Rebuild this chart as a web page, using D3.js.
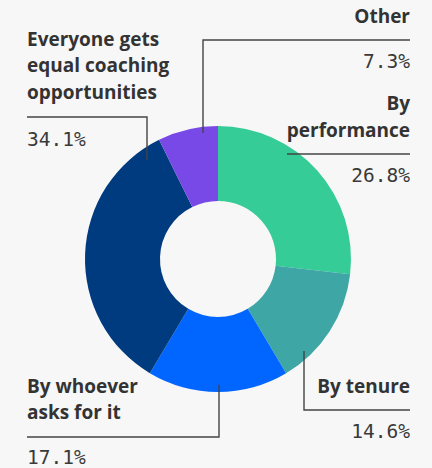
<!DOCTYPE html>
<html>
<head>
<meta charset="utf-8">
<script src="https://cdn.jsdelivr.net/npm/d3@7"></script>
<style>
  html, body { margin: 0; padding: 0; background: #f7f7f7; }
  svg { display: block; }
  .name { font-family: "Open Sans", "Noto Sans", sans-serif; font-weight: 700; font-size: 19px; fill: #333; }
  .pct { font-family: "DejaVu Sans Mono", monospace; font-size: 19.5px; fill: #3a3a3a; }
  .leader { stroke: #444; stroke-width: 1.4; fill: none; }
</style>
</head>
<body>
<script>
// Coaching allocation shares, clockwise from 12 o'clock
const categories = ["By performance", "By tenure", "By whoever asks for it", "Everyone gets equal coaching opportunities", "Other"];
const values = [26.8, 14.6, 17.1, 34.1, 7.3];
const colors = ["#36cc97", "#3ea7a6", "#0066ff", "#003b80", "#7849e6"];
const labelLines = [["By", "performance"], ["By tenure"], ["By whoever", "asks for it"], ["Everyone gets", "equal coaching", "opportunities"], ["Other"]];

const W = 432, H = 468;
const cx = 218, cy = 259, rOuter = 133, rInner = 58;

const svg = d3.select("body").append("svg").attr("width", W).attr("height", H);

const pie = d3.pie().sort(null).value(d => d.v);
const arc = d3.arc().innerRadius(rInner).outerRadius(rOuter);
const data = categories.map((c, i) => ({ c, v: values[i], color: colors[i], lines: labelLines[i] }));
const arcs = pie(data);

svg.append("g").attr("transform", `translate(${cx},${cy})`)
  .selectAll("path").data(arcs).join("path")
  .attr("d", arc).attr("fill", d => d.data.color);

// Label layout: leader path, name lines, percent position
const layout = [
  { leader: [[287,154],[410,154]], anchor: "end", x: 410, nameY: [110,137], pctY: 182 },
  { leader: [[304,351],[304,410],[410,410]], anchor: "end", x: 410, nameY: [393], pctY: 438 },
  { leader: [[219,385],[219,437],[27,437]], anchor: "start", x: 27, nameY: [393,419], pctY: 464 },
  { leader: [[147,160],[147,117],[27,117]], anchor: "start", x: 27, nameY: [46,72,99], pctY: 146 },
  { leader: [[203,133],[203,40],[410,40]], anchor: "end", x: 410, nameY: [23], pctY: 68 }
];

const g = svg.append("g");
data.forEach((d, i) => {
  const L = layout[i];
  g.append("path").attr("class", "leader").attr("d", d3.line()(L.leader));
  d.lines.forEach((t, j) => {
    g.append("text").attr("class", "name").attr("x", L.x).attr("y", L.nameY[j])
      .attr("text-anchor", L.anchor).text(t);
  });
  g.append("text").attr("class", "pct").attr("x", L.x).attr("y", L.pctY)
    .attr("text-anchor", L.anchor).text(d3.format(".1f")(d.v) + "%");
});
</script>
</body>
</html>
